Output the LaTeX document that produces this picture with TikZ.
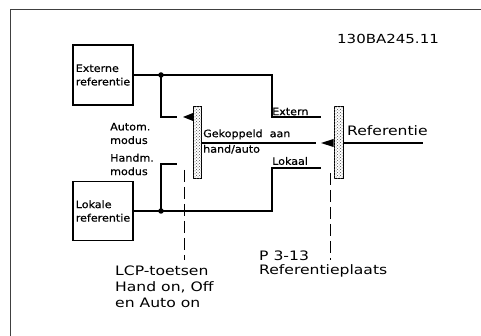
\documentclass[tikz,border=0pt]{standalone}
\usepackage{fontspec}
\setmainfont{DejaVu Sans}
\newfontfamily\bigf[FakeStretch=1.2]{DejaVu Sans}
\newfontfamily\smallf[FakeStretch=1.08,FakeBold=0.6]{DejaVu Sans}
\usetikzlibrary{patterns}
\begin{document}
\begin{tikzpicture}[x=1pt,y=-1pt,
  frame/.style={draw=black!75,line width=0.9pt},
  wire/.style={draw=black,line width=1.2pt},
  refbox/.style={draw=black,line width=1.1pt,minimum width=60pt,minimum height=60pt,inner sep=1.5pt,align=left,font=\smallf\fontsize{10.3}{13.5}\selectfont},
  bar/.style={draw=black,line width=1pt,fill=white,minimum width=8pt,minimum height=72pt,inner sep=0pt,
    postaction={pattern=crosshatch dots,pattern color=black!70}},
  slabel/.style={inner sep=0pt,anchor=west,align=left,font=\smallf\fontsize{10.3}{13.5}\selectfont},
  blabel/.style={inner sep=0pt,anchor=west,align=left,font=\bigf\fontsize{13}{16}\selectfont},
  dashline/.style={draw=black,line width=0.9pt,dash pattern=on 12pt off 5pt},
  tip/.style={fill=black},
  junction/.style={circle,fill=black,inner sep=0pt,minimum size=5.5pt}
]
\useasboundingbox (0,0) rectangle (481,336);
\draw[frame] (10,336) -- (10,9) -- (481,9);

% boxes
\node[refbox] (ext) at (103,75) {Externe\\referentie};
\node[refbox,minimum height=59pt] (lok) at (103,211) {Lokale\\referentie};

% switch bars
\node[bar] (sw1) at (197.5,143) {};
\node[bar,minimum width=9pt] (sw2) at (338.5,143) {};

% junctions
\node[junction] (d1) at (161,75) {};
\node[junction] (d2) at (161,211) {};

% coordinates
\coordinate (a1) at (177,117);
\coordinate (a2) at (177,164);
\coordinate (extend) at (321,117);
\coordinate (lokend) at (321,168);
\coordinate (midend) at (316,143);
\coordinate (refend) at (423,143);

% wires
\draw[wire] (ext.east) -- (d1.center) -- (272,75) -- (272,117) -- (extend);
\draw[wire] (d1.center) -- (161,117) -- (a1);
\draw[wire] (lok.east) -- (d2.center) -- (272,211) -- (272,168) -- (lokend);
\draw[wire] (d2.center) -- (161,164) -- (a2);
\draw[wire] (sw1.east |- midend) -- (midend);
\draw[wire] (sw2.east |- refend) -- (refend);

% switch tips
\fill[tip] (183,117) -- (sw1.west |- 0,113) -- (sw1.west |- 0,121) -- cycle;
\fill[tip] (321,143) -- (sw2.west |- 0,139) -- (sw2.west |- 0,147) -- cycle;

% dashed actuators
\coordinate (l1t) at (184,170);
\coordinate (l1b) at (184,260);
\coordinate (l2t) at (330,173);
\coordinate (l2b) at (330,260);
\draw[dashline] (l1t) -- (l1b);
\draw[dashline] (l2t) -- (l2b);

% labels
\node[inner sep=0pt,anchor=west,font=\bigf\fontsize{12.5}{15}\selectfont] (id) at (337,39) {130BA245.11};
\node[slabel] (auto) at (110,133.5) {Autom.\\modus};
\node[slabel] (hand) at (110,164.5) {Handm.\\modus};
\node[slabel,font=\smallf\fontsize{10.3}{15.5}\selectfont] (gek) at (203,141.5) {Gekoppeld\ \ aan\\hand/auto};
\node[slabel] (extl) at (272,111.5) {Extern};
\node[slabel] (lokl) at (272,161) {Lokaal};
\node[blabel] (refl) at (347,131) {Referentie};
\node[blabel,font=\bigf\fontsize{13}{14}\selectfont] (p313) at (259,264) {P 3-13\\Referentieplaats};
\node[blabel] (lcp) at (115,287) {LCP-toetsen\\Hand on, Off\\en Auto on};
\end{tikzpicture}
\end{document}
